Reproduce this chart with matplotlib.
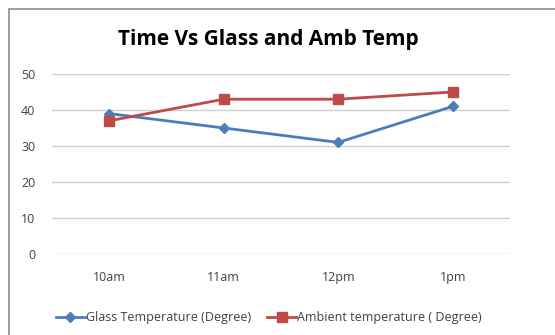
import matplotlib.pyplot as plt
from matplotlib.patches import Rectangle

# data
times = ["10am", "11am", "12pm", "1pm"]
glass_temp = [39, 35, 31, 41]
ambient_temp = [37, 43, 43, 45]

plt.rcParams["font.family"] = ["Open Sans", "DejaVu Sans"]

fig = plt.figure(figsize=(5.55, 3.35), dpi=100)
ax = fig.add_axes([52 / 555, 1 - 254 / 335, 458 / 555, 180 / 335])

x = range(len(times))
ax.plot(x, glass_temp, color="#4A7EBB", linewidth=2, marker="D", markersize=5,
        label="Glass Temperature (Degree)")
ax.plot(x, ambient_temp, color="#BE4B48", linewidth=2, marker="s", markersize=7,
        label="Ambient temperature ( Degree)")

ax.set_xlim(-0.5, len(times) - 0.5)
ax.set_ylim(0, 50)
ax.set_yticks(range(0, 51, 10))
ax.set_xticks(list(x))
ax.set_xticklabels(times)
ax.yaxis.grid(True, color="#D0D0D0", linewidth=1)
ax.set_axisbelow(True)
for s in ax.spines.values():
    s.set_visible(False)
ax.tick_params(axis="both", length=0, labelsize=9, colors="#404040")
ax.tick_params(axis="y", pad=12)
ax.tick_params(axis="x", pad=12)

fig.text(268 / 555, 1 - 40 / 335, "Time Vs Glass and Amb Temp", ha="center", va="center",
         fontsize=15, fontweight="bold", color="black")

fig.legend(loc="center", bbox_to_anchor=(269 / 555, 1 - 318 / 335), ncol=2, frameon=False,
           fontsize=9, handlelength=2.3, columnspacing=1.3, handletextpad=0.1,
           labelcolor="#404040")

# chart area border (cut off on right and bottom in the reference)
fig.patches.append(Rectangle((9 / 555, -0.1), 1.2, 1 - 9 / 335 + 0.1,
                             transform=fig.transFigure, fill=False,
                             edgecolor="#8C8C8C", linewidth=1.2))

fig.savefig("out.png", dpi=100)
